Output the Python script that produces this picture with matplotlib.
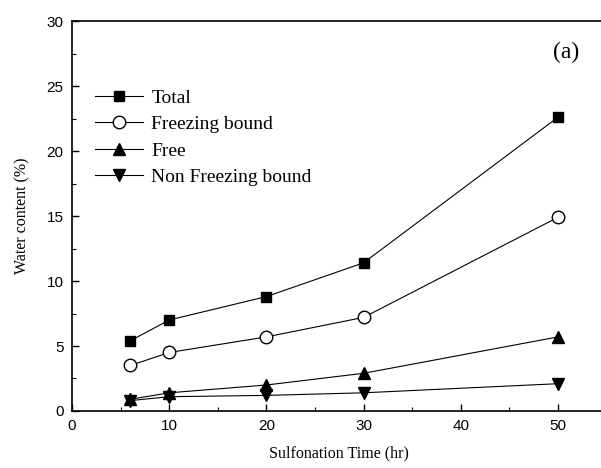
import numpy as np
import matplotlib.pyplot as plt

# Sulfonation time (hr)
time_hr = [6, 10, 20, 30, 50]

# water content (%)
total = [5.4, 7.0, 8.8, 11.4, 22.6]
freezing_bound = [3.5, 4.5, 5.7, 7.2, 14.9]
free = [0.9, 1.4, 2.0, 2.9, 5.7]
non_freezing = [0.8, 1.1, 1.2, 1.4, 2.1]

fig = plt.figure(figsize=(6.01, 4.68), dpi=100)
ax = fig.add_axes([0.1198, 0.1218, 0.8895, 0.8333])

lw = 0.8
ax.plot(time_hr, total, '-', color='black', lw=lw, marker='s', ms=7.5, mfc='black', label='Total')
ax.plot(time_hr, freezing_bound, '-', color='black', lw=lw, marker='o', ms=9, mfc='white', label='Freezing bound')
ax.plot(time_hr, free, '-', color='black', lw=lw, marker='^', ms=9, mfc='black', label='Free')
ax.plot(time_hr, non_freezing, '-', color='black', lw=lw, marker='v', ms=9, mfc='black', label='Non Freezing bound')

ax.set_xlim(0, 55)
ax.set_ylim(0, 30)
ax.set_xticks([0, 10, 20, 30, 40, 50])
ax.set_yticks([0, 5, 10, 15, 20, 25, 30])
ax.set_xticks(np.arange(5, 55, 10), minor=True)
ax.set_yticks(np.arange(2.5, 30, 5), minor=True)
ax.tick_params(which='both', direction='in', labelsize=11)
ax.tick_params(which='major', length=5, width=1, pad=6)
ax.tick_params(which='minor', length=3, width=0.8)
for lab in ax.get_xticklabels() + ax.get_yticklabels():
    lab.set_family('Liberation Sans')
for s in ax.spines.values():
    s.set_linewidth(1.2)

ax.set_xlabel('Sulfonation Time (hr)', family='Liberation Serif', fontsize=11.5, labelpad=9)
ax.set_ylabel('Water content (%)', family='Liberation Serif', fontsize=11.5, labelpad=12)

ax.text(50.8, 27.6, '(a)', family='Liberation Serif', fontsize=17, ha='center', va='center')

leg = ax.legend(loc='upper left', bbox_to_anchor=(0.01, 0.87), frameon=False,
                prop={'family': 'Liberation Serif', 'size': 14},
                handlelength=2.5, handletextpad=0.4, labelspacing=0.45)

fig.savefig('out.png', dpi=100)
